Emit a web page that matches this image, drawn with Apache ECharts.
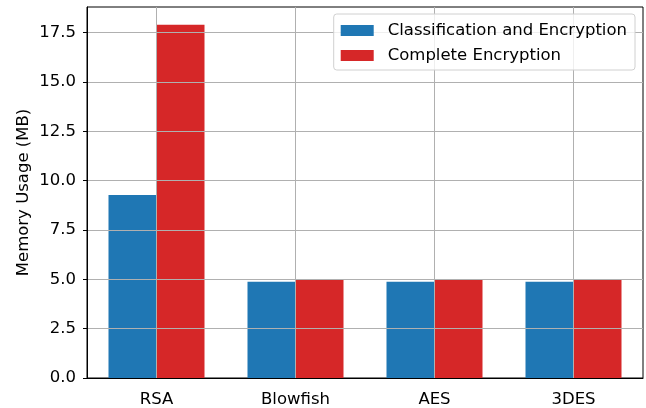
<!DOCTYPE html>
<html>
<head>
<meta charset="utf-8">
<script src="https://cdn.jsdelivr.net/npm/echarts@6/dist/echarts.min.js"></script>
<style>
  html, body { margin: 0; padding: 0; background: #fff; }
  #chart { width: 646px; height: 408px; }
</style>
</head>
<body>
<div id="chart"></div>
<script>
// data
const algorithms = ['RSA', 'Blowfish', 'AES', '3DES'];
const classifyEncrypt = [9.27, 4.88, 4.88, 4.88];
const completeEncrypt = [17.9, 4.97, 4.97, 4.97];
const yTicks = [0, 2.5, 5, 7.5, 10, 12.5, 15, 17.5];

const font = 'DejaVu Sans';
const fs = 16.5;

const chart = echarts.init(document.getElementById('chart'));
chart.setOption({
  animation: false,
  grid: { left: 87, right: 3, top: 7, bottom: 29, show: true, borderColor: '#000', borderWidth: 1, backgroundColor: 'transparent' },
  legend: {
    orient: 'vertical',
    right: 11,
    top: 14,
    padding: [8, 8, 6, 7],
    itemWidth: 33,
    itemHeight: 11,
    itemGap: 8,
    borderColor: '#d0d0d0',
    borderWidth: 1,
    borderRadius: 3,
    backgroundColor: 'rgba(255,255,255,0.8)',
    icon: 'rect',
    textStyle: { fontFamily: font, fontSize: fs, color: '#000', padding: [0, 0, 0, 9] },
    data: ['Classification and Encryption', 'Complete Encryption']
  },
  xAxis: {
    type: 'category',
    data: algorithms,
    z: 3,
    axisLine: { lineStyle: { color: '#000', width: 1 } },
    axisTick: { alignWithLabel: true, length: 4, lineStyle: { color: '#000' } },
    axisLabel: { fontFamily: font, fontSize: fs, color: '#000', margin: 13 },
    splitLine: { show: true, alignWithLabel: true, lineStyle: { color: '#b0b0b0', width: 1 } }
  },
  yAxis: {
    type: 'value',
    min: 0,
    max: 18.8,
    interval: 2.5,
    z: 3,
    name: 'Memory Usage (MB)',
    nameLocation: 'middle',
    nameRotate: 90,
    nameGap: 55,
    nameMoveOverlap: false,
    nameTextStyle: { fontFamily: font, fontSize: fs, color: '#000' },
    axisLine: { show: true, lineStyle: { color: '#000', width: 1 } },
    axisTick: { show: true, length: 4, lineStyle: { color: '#000' }, customValues: yTicks },
    axisLabel: {
      fontFamily: font, fontSize: fs, color: '#000', margin: 11,
      customValues: yTicks,
      formatter: v => v.toFixed(1)
    },
    splitLine: { show: true, lineStyle: { color: '#b0b0b0', width: 1 } }
  },
  series: [
    {
      name: 'Classification and Encryption',
      type: 'bar',
      data: classifyEncrypt,
      barWidth: 48,
      barGap: '0%',
      itemStyle: { color: '#1f77b4' }
    },
    {
      name: 'Complete Encryption',
      type: 'bar',
      data: completeEncrypt,
      barWidth: 48,
      barGap: '0%',
      itemStyle: { color: '#d62728' }
    }
  ]
});
</script>
</body>
</html>
